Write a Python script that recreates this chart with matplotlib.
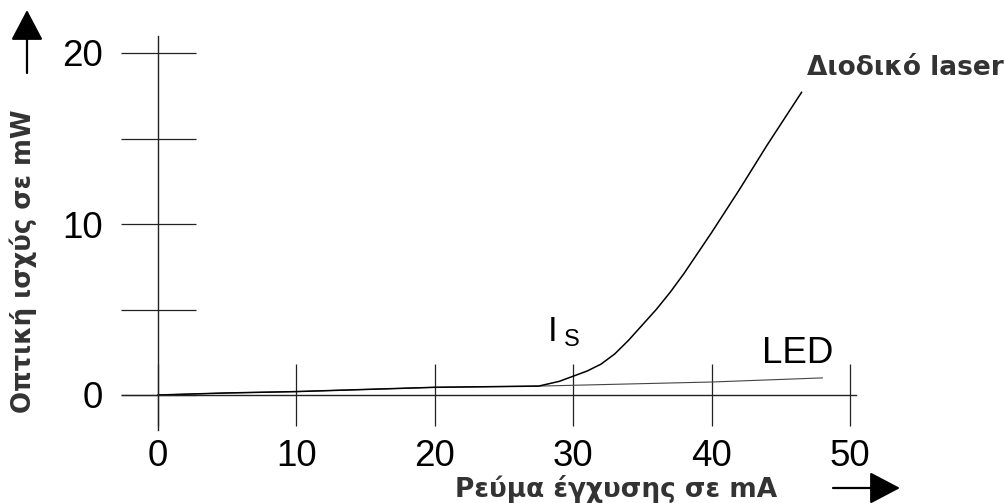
"""
optical power vs drive current: laser diode against LED.
"""
import matplotlib.pyplot as plt
from matplotlib.patches import FancyArrowPatch

# current in mA, optical power in mW
led_current = [0, 5, 10, 20, 27.5, 40, 48]
led_power = [0, 0.12, 0.2, 0.45, 0.52, 0.76, 1.0]

laser_current = [0, 5, 10, 20, 27.5, 29, 30, 31, 32, 33, 34, 35, 36, 37,
                 38, 39, 40, 42, 44, 46.5]
laser_power = [0, 0.12, 0.2, 0.45, 0.52, 0.8, 1.1, 1.4, 1.8, 2.4, 3.2, 4.1,
               5.0, 6.0, 7.1, 8.3, 9.5, 12.0, 14.6, 17.7]

x_ticks = [0, 10, 20, 30, 40, 50]
y_ticks = [0, 5, 10, 15, 20]
y_tick_labels = ["0", "", "10", "", "20"]

x_label = "Ρεύμα έγχυσης σε mA"
y_label = "Οπτική ισχύς σε mW"
laser_name = "Διοδικό laser"
led_name = "LED"

W, H = 1006, 503
fig = plt.figure(figsize=(W / 100, H / 100), dpi=100)
ax = fig.add_axes([0, 0, 1, 1])

# data -> pixel: x0 at 158px, 13.84 px/mA; y0 at 108px from bottom, 17.1 px/mW
ax.set_xlim(-158 / 13.84, (W - 158) / 13.84)
ax.set_ylim(-108 / 17.1, (H - 108) / 17.1)
ax.patch.set_visible(False)

axis_col = "#222222"
for side in ["top", "right"]:
    ax.spines[side].set_visible(False)
ax.spines["left"].set_position(("data", 0))
ax.spines["bottom"].set_position(("data", 0))
ax.spines["left"].set_bounds(-2.05, 21.0)
ax.spines["bottom"].set_bounds(-2.6, 50.4)
for side in ["left", "bottom"]:
    ax.spines[side].set_color(axis_col)
    ax.spines[side].set_linewidth(1.0)

ax.set_xticks(x_ticks)
ax.set_yticks(y_ticks)
ax.set_yticklabels(y_tick_labels)
ax.tick_params(axis="x", direction="inout", length=44, width=0.9,
               color=axis_col, pad=10, labelsize=26.5)
ax.tick_params(axis="y", direction="inout", length=54, width=0.9,
               color=axis_col, pad=13, labelsize=26.5)
for lab in ax.get_xticklabels() + ax.get_yticklabels():
    lab.set_family("Liberation Sans")

ax.plot(led_current, led_power, color="#444444", lw=0.8)
ax.plot(laser_current, laser_power, color="black", lw=1.1)

ax.text(28.5, 3.7, "I", fontsize=25, family="Liberation Sans",
        ha="center", va="center")
ax.text(29.9, 3.2, "S", fontsize=17, family="Liberation Sans",
        ha="center", va="center")
ax.text(46.2, 2.45, led_name, fontsize=26.5, family="Liberation Sans",
        ha="center", va="center")

txt_col = "#333333"
fig.text(807 / W, 1 - 68 / H, laser_name, fontsize=19, fontweight="bold",
         color=txt_col, ha="left", va="center", family="DejaVu Sans")
fig.text(616 / W, 1 - 497 / H, x_label, fontsize=19, fontweight="bold",
         color=txt_col, ha="center", va="baseline", family="DejaVu Sans")
fig.text(23 / W, 1 - 261 / H, y_label, fontsize=18.7, fontweight="bold",
         color=txt_col, ha="center", va="center", rotation=90,
         family="DejaVu Sans")

# axis direction arrows
arrow = dict(arrowstyle="-|>,head_length=0.95,head_width=0.5",
             mutation_scale=20, color="black", lw=1.6, shrinkA=0, shrinkB=0,
             transform=fig.transFigure)
fig.add_artist(FancyArrowPatch((27 / W, 1 - 73 / H), (27 / W, 1 - 10 / H),
                               **arrow))
fig.add_artist(FancyArrowPatch((833 / W, 1 - 488 / H), (900 / W, 1 - 488 / H),
                               **arrow))

fig.savefig("out.png", dpi=100)
